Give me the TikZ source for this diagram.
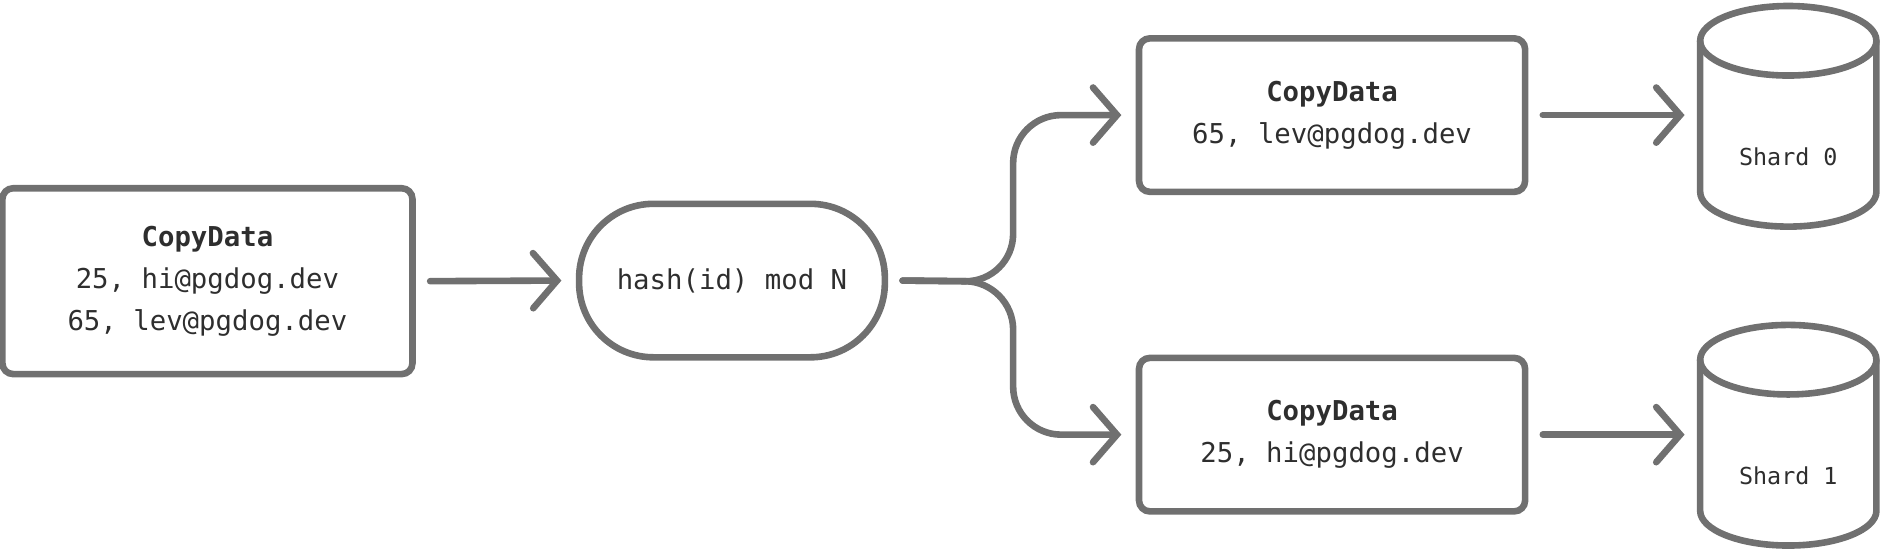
\documentclass[tikz,border=0pt]{standalone}
\usepackage{fontspec}
\setmonofont{DejaVu Sans Mono}
\usetikzlibrary{arrows.meta}
\definecolor{g}{HTML}{707070}
\definecolor{t}{HTML}{2E2E2E}
\begin{document}
\begin{tikzpicture}[x=1pt,y=-1pt,
 box/.style={draw=g,line width=5.5pt,rounded corners=9pt,inner sep=0pt,font=\ttfamily\fontsize{22.8}{35}\selectfont,text=t,align=center},
 conn/.style={draw=g,line width=5.5pt,line cap=round,-{Straight Barb[length=20pt,width=46pt,line cap=round]}},
 cyl/.style={draw=g,line width=5.5pt}]
\useasboundingbox (0,0) rectangle (1568,460);
\node[box,minimum width=342pt,minimum height=155pt] (in) at (173,234.5) {\textbf{CopyData}\\25, hi@pgdog.dev\\65, lev@pgdog.dev};
\node[box,minimum width=255pt,minimum height=128pt,rounded corners=62pt] (h) at (610.5,234) {hash(id) mod N};
\node[box,minimum width=322pt,minimum height=128pt] (o0) at (1111,96) {\textbf{CopyData}\\65, lev@pgdog.dev};
\node[box,minimum width=322pt,minimum height=128pt] (o1) at (1111,362.5) {\textbf{CopyData}\\25, hi@pgdog.dev};
% cylinders
\foreach \n/\cy/\lab in {s0/0/0,s1/266/1}{
 \draw[cyl] (1491.5,\cy+34) ellipse[x radius=73.5,y radius=29];
 \draw[cyl] (1418,\cy+34) -- (1418,\cy+160)
   arc[start angle=180,end angle=0,x radius=73.5,y radius=29] -- (1565,\cy+34);
 \node[font=\ttfamily\fontsize{19.5}{20}\selectfont,text=t] (\n) at (1491.5,\cy+131) {Shard \lab};
}
\coordinate (s0w) at (1405,96);
\coordinate (s1w) at (1405,362.5);
\coordinate (br) at (845,235);
\draw[conn] ([xshift=12pt]in.east) -- ([xshift=-12pt]h.west);
\draw[conn,rounded corners=40pt] ([xshift=12pt]h.east) -- (br) |- ([xshift=-12pt]o0.west);
\draw[conn,rounded corners=40pt] ([xshift=12pt]h.east) -- (br) |- ([xshift=-12pt]o1.west);
\draw[conn] ([xshift=12pt]o0.east) -- (s0w);
\draw[conn] ([xshift=12pt]o1.east) -- (s1w);
\end{tikzpicture}
\end{document}
